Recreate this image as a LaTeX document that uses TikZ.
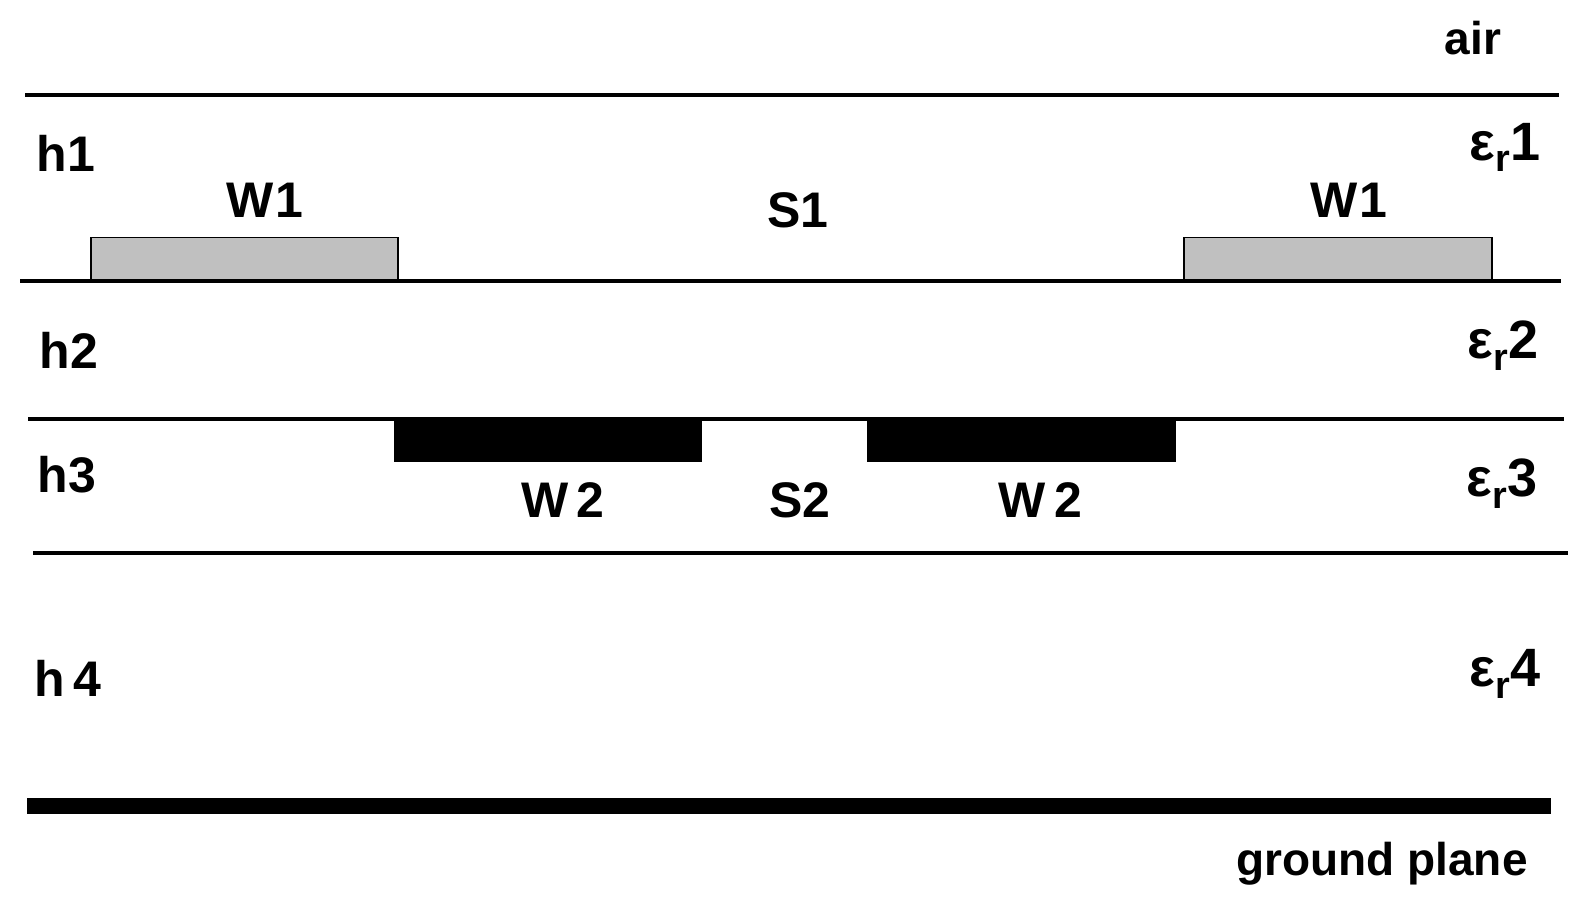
\documentclass[tikz,border=0pt]{standalone}
\usepackage{fontspec}
\setmainfont{Liberation Sans}
\begin{document}
\begin{tikzpicture}[x=1.01pt,y=-1.01pt,
  lbl/.style={font=\fontsize{50}{54}\selectfont\bfseries,inner sep=0pt},
  eps/.style={font=\fontsize{54}{58}\selectfont\bfseries,inner sep=0pt},
  sml/.style={font=\fontsize{46}{50}\selectfont\bfseries,inner sep=0pt},
  layer/.style={line width=4pt}]
\useasboundingbox (0,0) rectangle (1568,902);
\draw[layer] (25,94) -- (1543,94);
\draw[layer] (20,278) -- (1545,278);
\draw[layer] (28,415) -- (1548,415);
\draw[layer] (33,547) -- (1552,547);
\draw[line width=16pt] (27,798) -- (1535,798);
\draw[fill={rgb,255:red,192;green,192;blue,192},line width=1.5pt] (90,277) rectangle (394,235);
\draw[fill={rgb,255:red,192;green,192;blue,192},line width=1.5pt] (1172,277) rectangle (1477,235);
\fill (390,413) rectangle (695,457);
\fill (858,413) rectangle (1164,457);
\node[sml] (air) at (1458,38) {air};
\node[lbl] (h1) at (65,152) {h1};
\node[lbl] (w1a) at (262,198) {W\kern2pt1};
\node[lbl] (s1) at (790,208) {S1};
\node[lbl] (w1b) at (1335,198) {W\kern2pt1};
\node[eps] (e1) at (1490,146) {ε\textsubscript{r}1};
\node[lbl] (h2) at (68,347) {h2};
\node[eps] (e2) at (1488,342) {ε\textsubscript{r}2};
\node[lbl] (h3) at (66,470) {h3};
\node[lbl] (w2a) at (557,495) {W\,2};
\node[lbl] (s2) at (792,495) {S2};
\node[lbl] (w2b) at (1030,495) {W\,2};
\node[eps] (e3) at (1487,479) {ε\textsubscript{r}3};
\node[lbl] (h4) at (67,672) {h\,4};
\node[eps] (e4) at (1490,667) {ε\textsubscript{r}4};
\node[sml] (gp) at (1368,855) {ground plane};
\end{tikzpicture}
\end{document}
